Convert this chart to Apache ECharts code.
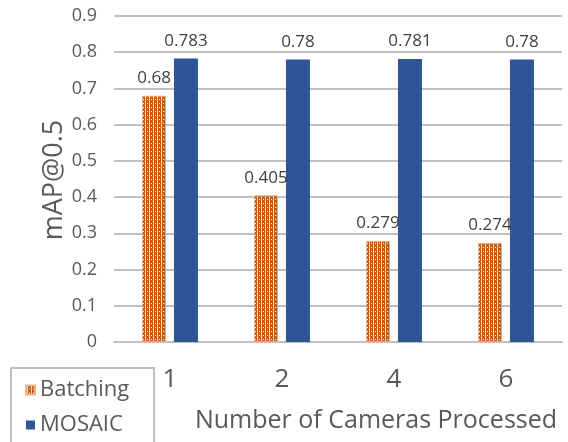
<!DOCTYPE html>
<html>
<head>
<meta charset="utf-8">
<script src="https://cdn.jsdelivr.net/npm/echarts@6/dist/echarts.min.js"></script>
<style>
  html, body { margin: 0; padding: 0; background: #fff; }
  #chart { width: 568px; height: 442px; }
</style>
</head>
<body>
<div id="chart"></div>
<script>
// Camera counts and mAP@0.5 for the two processing approaches
const categories = ['1', '2', '4', '6'];
const batching = [0.68, 0.405, 0.279, 0.274];
const mosaic = [0.783, 0.78, 0.781, 0.78];
const yTicks = [0, 0.1, 0.2, 0.3, 0.4, 0.5, 0.6, 0.7, 0.8, 0.9];

const FONT = '"Open Sans", Lato, sans-serif';
const TEXT = '#595959';

// Dotted-grid fill for the Batching bars
function makePattern() {
  const c = document.createElement('canvas');
  c.width = 4; c.height = 4;
  const g = c.getContext('2d');
  g.fillStyle = '#C55A11';
  g.fillRect(0, 0, 4, 4);
  g.fillStyle = '#f3c9a8';
  g.fillRect(1, 0, 1, 4);
  g.fillStyle = '#ffffff';
  g.fillRect(1, 1, 1, 1);
  g.fillRect(3, 3, 1, 1);
  return c;
}
const pattern = { image: makePattern(), repeat: 'repeat' };

const chart = echarts.init(document.getElementById('chart'), null, { renderer: 'canvas' });

const labelStyle = {
  show: true,
  position: 'top',
  distance: 9,
  fontSize: 17,
  fontFamily: FONT,
  color: '#404040'
};

chart.setOption({
  animation: false,
  grid: { left: 114, right: 6, top: 16, bottom: 100 },
  legend: {
    orient: 'vertical',
    left: 20,
    top: 374,
    itemWidth: 9,
    itemHeight: 9,
    itemGap: 13,
    icon: 'rect',
    textStyle: { fontSize: 22, fontFamily: FONT, color: TEXT },
    data: ['Batching', 'MOSAIC']
  },
  xAxis: {
    type: 'category',
    data: categories,
    axisLine: { lineStyle: { color: '#bfbfbf', width: 2 } },
    axisTick: { show: false },
    axisLabel: { fontSize: 26, fontFamily: FONT, color: TEXT, margin: 25 }
  },
  yAxis: {
    type: 'value',
    min: yTicks[0],
    max: yTicks[yTicks.length - 1],
    interval: 0.1,
    axisLine: { show: false },
    axisTick: { show: false },
    splitLine: { lineStyle: { color: '#bfbfbf', width: 2 } },
    axisLabel: {
      fontSize: 18, fontFamily: FONT, color: TEXT, margin: 17,
      formatter: v => String(Math.round(v * 10) / 10)
    }
  },
  graphic: [
    {
      type: 'rect',
      shape: { x: 11, y: 368, width: 143, height: 90 },
      style: { fill: 'none', stroke: '#bfbfbf', lineWidth: 2 },
      silent: true
    },
    {
      type: 'text',
      x: 54, y: 180,
      rotation: Math.PI / 2,
      style: {
        text: 'mAP@0.5', fontSize: 27, fontFamily: FONT, fill: TEXT,
        align: 'center', verticalAlign: 'middle'
      },
      silent: true
    },
    {
      type: 'text',
      x: 376, y: 421,
      style: {
        text: 'Number of Cameras Processed', fontSize: 25, fontFamily: FONT, fill: TEXT,
        align: 'center', verticalAlign: 'middle'
      },
      silent: true
    }
  ],
  series: [
    {
      name: 'Batching',
      type: 'bar',
      data: batching,
      barWidth: 24,
      barGap: '33%',
      itemStyle: { color: pattern, borderColor: '#e8b48c', borderWidth: 1 },
      label: labelStyle
    },
    {
      name: 'MOSAIC',
      type: 'bar',
      data: mosaic,
      barWidth: 24,
      itemStyle: { color: '#2F5597' },
      label: labelStyle
    }
  ]
});
</script>
</body>
</html>
